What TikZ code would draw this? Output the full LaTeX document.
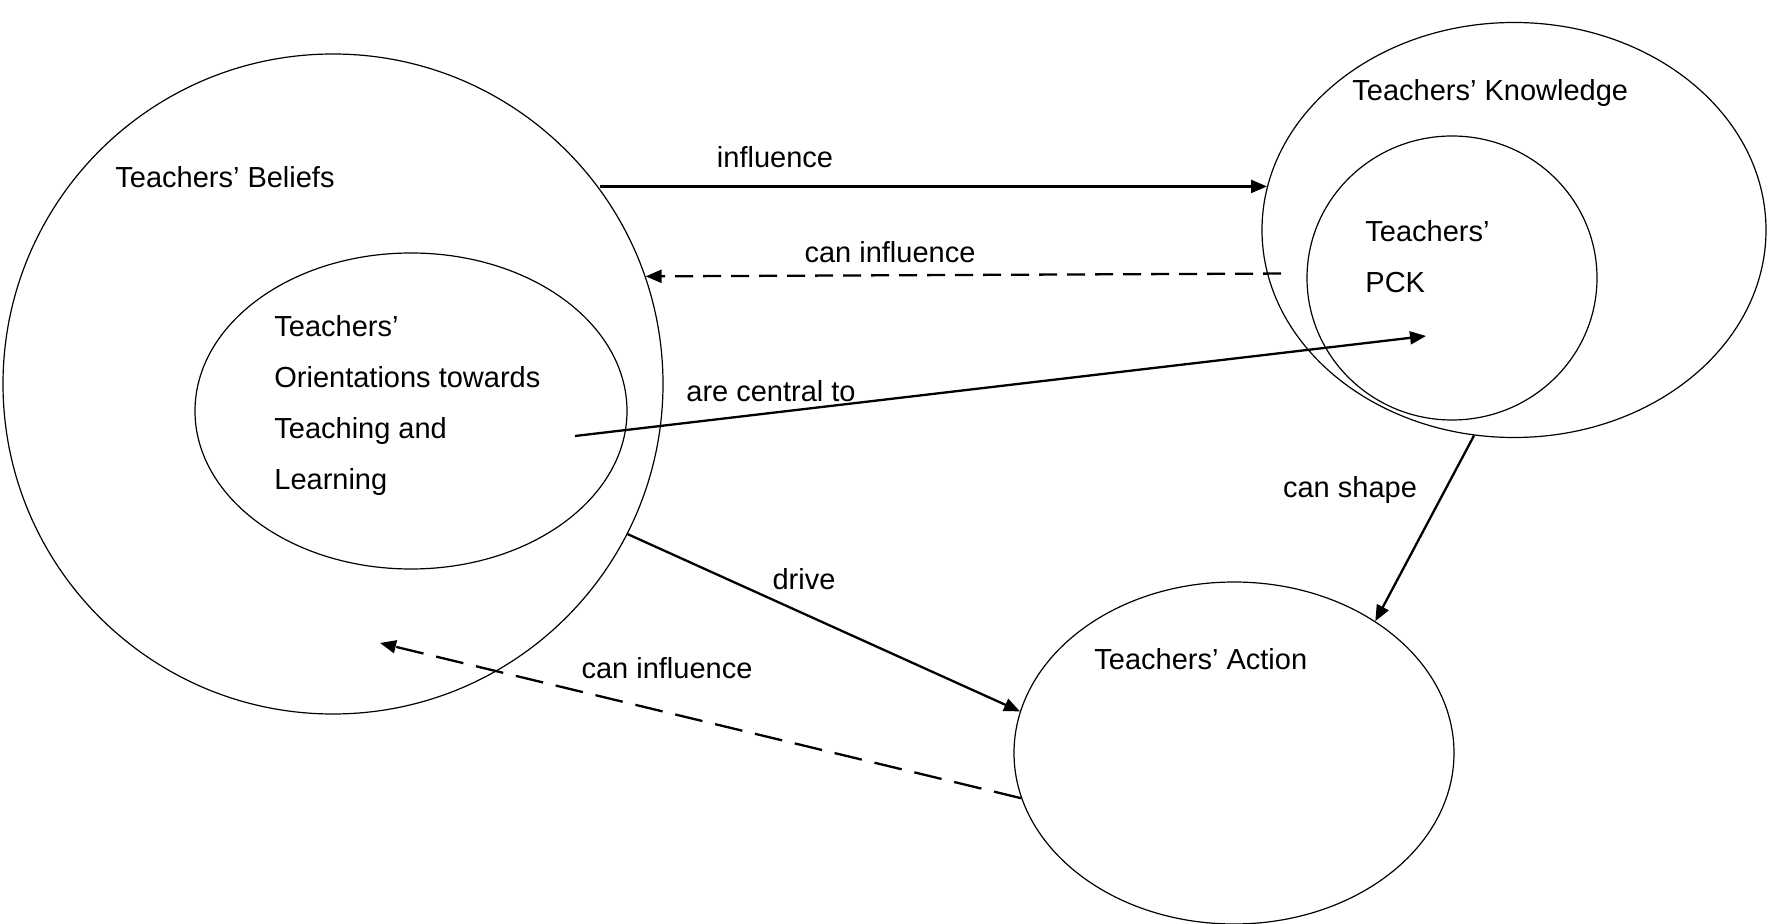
\documentclass[tikz,border=0pt]{standalone}
\usepackage{fontspec}
\setmainfont{Liberation Sans}
\usetikzlibrary{shapes.geometric,arrows.meta}

\begin{document}
\begin{tikzpicture}[x=0.5pt,y=-0.5pt,
  bubble/.style={draw,ellipse,line width=0.6pt,inner sep=0pt},
  lbl/.style={font=\fontsize{14.5}{25.5}\selectfont,inner sep=0pt,align=left},
  arr/.style={line width=1.15pt,-{Triangle[length=8pt,width=6.5pt]}},
  darr/.style={arr,dash pattern=on 9pt off 5pt}]
\useasboundingbox (0,0) rectangle (1767,924);
% the five bubbles
\node[bubble,minimum width=330pt,minimum height=330pt] (beliefs) at (333,384) {};
\node[bubble,minimum width=216pt,minimum height=158pt] (orient) at (411,411) {};
\node[bubble,minimum width=252pt,minimum height=207.5pt] (knowledge) at (1514,230) {};
\node[bubble,minimum width=145pt,minimum height=142pt] (pck) at (1452,278) {};
\node[bubble,minimum width=220pt,minimum height=171pt] (action) at (1234,753) {};
% texts in the bubbles
\node[lbl,anchor=west] (beliefstxt) at (115,177) {Teachers’ Beliefs};
\node[lbl,anchor=west] (knowtxt) at (1352,93) {Teachers’ Knowledge};
\node[lbl,anchor=west] (pcktxt) at (1365,257) {Teachers’\\PCK};
\node[lbl,anchor=west] (orienttxt) at (274,406) {Teachers’\\Orientations towards\\Teaching and\\Learning};
\node[lbl,anchor=west] (actiontxt) at (1094,659) {Teachers’ Action};
% free ends
\coordinate (centralfrom) at (575,436);
\coordinate (centralto) at (1426,336);
\coordinate (backto) at (380,643);
% connectors
\draw[arr] (beliefs.36.5 |- knowledge.170) -- (knowledge.170);
\node[lbl] (influencetxt) at (775,157) {influence};
\draw[darr] ([xshift=7pt]knowledge.190) -- (beliefs.19);
\node[lbl] (caninftxt) at (890,252) {can influence};
\draw[arr] (centralfrom) -- (centralto);
\node[lbl] (centraltxt) at (771,391) {are central to};
\draw[arr] (knowledge.259) -- (action.43);
\node[lbl] (shapetxt) at (1350,490) {can shape};
\draw[arr] (beliefs.-27) -- (action.169);
\node[lbl] (drivetxt) at (804,579) {drive};
\draw[darr,dash pattern=on 14pt off 6.5pt] (action.192) -- (backto);
\node[lbl] (backtxt) at (667,668) {can influence};
\end{tikzpicture}
\end{document}
